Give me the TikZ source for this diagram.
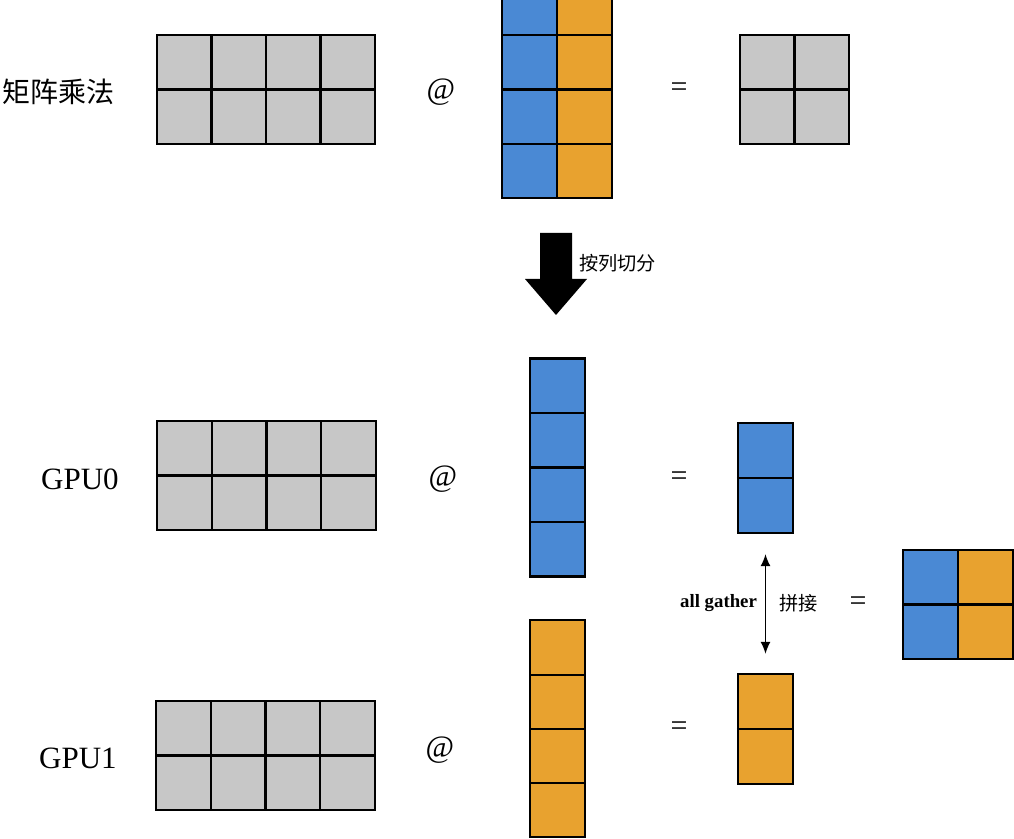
\documentclass[tikz,border=0pt]{standalone}
\usepackage{fontspec}
\setmainfont{Liberation Serif}
\newfontfamily\cjk{Noto Sans CJK SC}
\usetikzlibrary{arrows.meta}
\definecolor{zgrau}{HTML}{C7C7C7}
\definecolor{zblau}{HTML}{4A89D4}
\definecolor{zorange}{HTML}{E8A22F}
\tikzset{
  rahmen/.style={line width=1.2pt},
  ergebnis/.style={draw, line width=1.2pt, inner sep=0pt, minimum width=27.5pt, minimum height=55pt},
  titel/.style={font=\cjk\fontsize{14}{16}\selectfont},
  gpu/.style={font=\fontsize{15.5}{18}\selectfont},
  mal/.style={font=\fontsize{15.5}{18}\selectfont},
  gleich/.style={font=\fontsize{15}{17}\selectfont},
  klein/.style={font=\cjk\fontsize{9.6}{11}\selectfont},
}
\begin{document}
\begin{tikzpicture}[x=0.5pt,y=-0.5pt]
    \useasboundingbox (0,0) rectangle (1014,839);
    % Beschriftungen links
    \node[titel, anchor=east, inner sep=0pt] (mm) at (115,92) {矩阵乘法};
    \node[gpu] (gpu0) at (80,479) {GPU0};
    \node[gpu] (gpu1) at (78,758) {GPU1};
    % Matrix A oben
    \fill[zgrau] (157,35) rectangle (375,144);
    \draw[rahmen]
    (157,35) rectangle (375,144)
    (157,89.5) -- (375,89.5)
    (211.5,35) -- (211.5,144)
    (266,35) -- (266,144)
    (320.5,35) -- (320.5,144)
    ;
    \node[mal] (mal) at (441,92) {@};
    % Matrix B oben
    \fill[zblau] (502,-20) rectangle (557,198);
    \fill[zorange] (557,-20) rectangle (612,198);
    \draw[rahmen]
    (502,-20) rectangle (612,198)
    (557,-20) -- (557,198)
    (502,35) -- (612,35)
    (502,89.5) -- (612,89.5)
    (502,144) -- (612,144)
    ;
    \node[gleich] (eq) at (679,90) {=};
    % Matrix C oben
    \fill[zgrau] (740,35) rectangle (849,144);
    \draw[rahmen]
    (740,35) rectangle (849,144)
    (794.5,35) -- (794.5,144)
    (740,89.5) -- (849,89.5)
    ;
    % Pfeil
    \fill (540,233) -- (572,233) -- (572,279) -- (587,279) -- (556,315)
    -- (525,279) -- (540,279) -- cycle;
    \node[klein, anchor=west] (teil) at (572,263) {按列切分};
    % GPU0
    \fill[zgrau] (157,421) rectangle (376,530);
    \draw[rahmen]
    (157,421) rectangle (376,530)
    (157,475.5) -- (376,475.5)
    (211.75,421) -- (211.75,530)
    (266.5,421) -- (266.5,530)
    (321.25,421) -- (321.25,530)
    ;
    \node[mal] (mal0) at (443,479) {@};
    \fill[zblau] (530,358.5) rectangle (585,576.5);
    \draw[rahmen]
    (530,358.5) rectangle (585,576.5)
    (530,413) -- (585,413)
    (530,467.5) -- (585,467.5)
    (530,522) -- (585,522)
    ;
    \node[gleich] (eq0) at (679,479) {=};
    \node[ergebnis, fill=zblau] (C0) at (765.5,478) {};
    \draw[rahmen] (C0.west) -- (C0.east);
    % GPU1
    \fill[zgrau] (156,701) rectangle (375,810);
    \draw[rahmen]
    (156,701) rectangle (375,810)
    (156,755.5) -- (375,755.5)
    (210.75,701) -- (210.75,810)
    (265.5,701) -- (265.5,810)
    (320.25,701) -- (320.25,810)
    ;
    \node[mal] (mal1) at (440,750) {@};
    \fill[zorange] (530,620) rectangle (585,837);
    \draw[rahmen]
    (530,620) rectangle (585,837)
    (530,675) -- (585,675)
    (530,729) -- (585,729)
    (530,783) -- (585,783)
    ;
    \node[gleich] (eq1) at (679,729) {=};
    \node[ergebnis, fill=zorange] (C1) at (765.5,729) {};
    \draw[rahmen] (C1.west) -- (C1.east);
    % all gather
    \draw[{Latex[length=6pt,width=5pt]}-{Latex[length=6pt,width=5pt]}, line width=0.6pt,
    shorten <=10pt, shorten >=9.5pt]
    (C0.south) -- (C1.north)
    node[midway, left, inner sep=4pt, font=\bfseries\fontsize{9.4}{11}\selectfont] (ag) {all gather}
    node[midway, right, inner sep=6.5pt, klein] (pj) {拼接}
    ;
    \node[gleich] (eq2) at (858,604) {=};
    % Ergebnis
    \fill[zblau] (903,550) rectangle (958,659);
    \fill[zorange] (958,550) rectangle (1013,659);
    \draw[rahmen]
    (903,550) rectangle (1013,659)
    (958,550) -- (958,659)
    (903,604.5) -- (1013,604.5)
    ;
\end{tikzpicture}
\end{document}
